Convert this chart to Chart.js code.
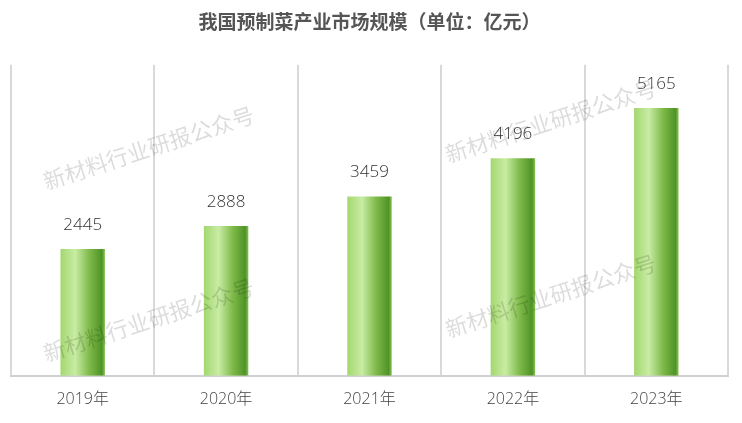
<!DOCTYPE html>
<html>
<head>
<meta charset="utf-8">
<script src="https://cdn.jsdelivr.net/npm/chart.js@4.4.1/dist/chart.umd.min.js"></script>
<style>
  html, body { margin: 0; padding: 0; background: #fff; }
  #wrap { width: 742px; height: 423px; position: relative; }
</style>
</head>
<body>
<div id="wrap"><canvas id="myChart"></canvas></div>
<script>
var ctx = document.getElementById("myChart").getContext('2d');

const labels = ["2019年", "2020年", "2021年", "2022年", "2023年"];
const marketSize = [2445, 2888, 3459, 4196, 5165];
const watermarkText = "新材料行业研报公众号";
const barShare = 0.31;

// horizontal cylinder-like gradient for each bar
function barFill(context) {
  const chart = context.chart;
  const xs = chart.scales && chart.scales.x;
  if (!chart.chartArea || !xs || !xs.width) return '#8cc85a';
  const w = xs.width / labels.length * barShare;
  const left = xs.getPixelForValue(context.dataIndex) - w / 2;
  const g = chart.ctx.createLinearGradient(left, 0, left + w, 0);
  g.addColorStop(0, '#a3d76e');
  g.addColorStop(0.33, '#c8eca4');
  g.addColorStop(0.65, '#7fba4a');
  g.addColorStop(0.93, '#4f9326');
  g.addColorStop(1, '#86c256');
  return g;
}

const valueLabels = {
  id: 'valueLabels',
  afterDatasetsDraw(chart) {
    const c = chart.ctx;
    c.save();
    c.font = '300 17px "Open Sans", "Noto Sans", sans-serif';
    c.fillStyle = '#333';
    c.textAlign = 'center';
    c.textBaseline = 'middle';
    chart.getDatasetMeta(0).data.forEach((bar, i) => {
      c.fillText(marketSize[i], bar.x, bar.y - 24);
    });
    c.restore();
  }
};

const watermark = {
  id: 'watermark',
  afterDraw(chart) {
    const c = chart.ctx;
    c.save();
    c.font = '22px "Noto Sans CJK SC", sans-serif';
    c.fillStyle = 'rgba(0,0,0,0.14)';
    c.textBaseline = 'middle';
    [[44, 182], [446, 155], [44, 354], [446, 330]].forEach(p => {
      c.save();
      c.translate(p[0], p[1]);
      c.rotate(-18 * Math.PI / 180);
      c.fillText(watermarkText, 0, 0);
      c.restore();
    });
    c.restore();
  }
};

const data = {
  labels: labels,
  datasets: [{
    data: marketSize,
    backgroundColor: barFill,
    borderWidth: 0,
    barPercentage: barShare,
    categoryPercentage: 1
  }]
};

const config = {
  type: 'bar',
  data,
  plugins: [valueLabels, watermark],
  options: {
    responsive: true,
    maintainAspectRatio: false,
    animation: false,
    layout: { padding: { left: 11, right: 14, top: 0, bottom: 0 } },
    plugins: {
      legend: { display: false },
      tooltip: { enabled: false },
      title: {
        display: true,
        text: '我国预制菜产业市场规模（单位：亿元）',
        color: '#555',
        font: { family: '"Noto Sans CJK SC", sans-serif', size: 19, weight: 'bold' },
        padding: { top: 10, bottom: 32 }
      }
    },
    scales: {
      x: {
        grid: { display: true, offset: true, color: '#d9d9d9', lineWidth: 2, drawTicks: false },
        border: { display: true, color: '#d0d0d0', width: 2 },
        ticks: {
          color: '#444',
          padding: 14,
          font: { family: '"Open Sans", "Noto Sans CJK SC", sans-serif', size: 16, weight: '300' }
        }
      },
      y: {
        min: 0,
        max: 6000,
        display: false
      }
    }
  }
};

var myChart = new Chart(ctx, config);
</script>
</body>
</html>
